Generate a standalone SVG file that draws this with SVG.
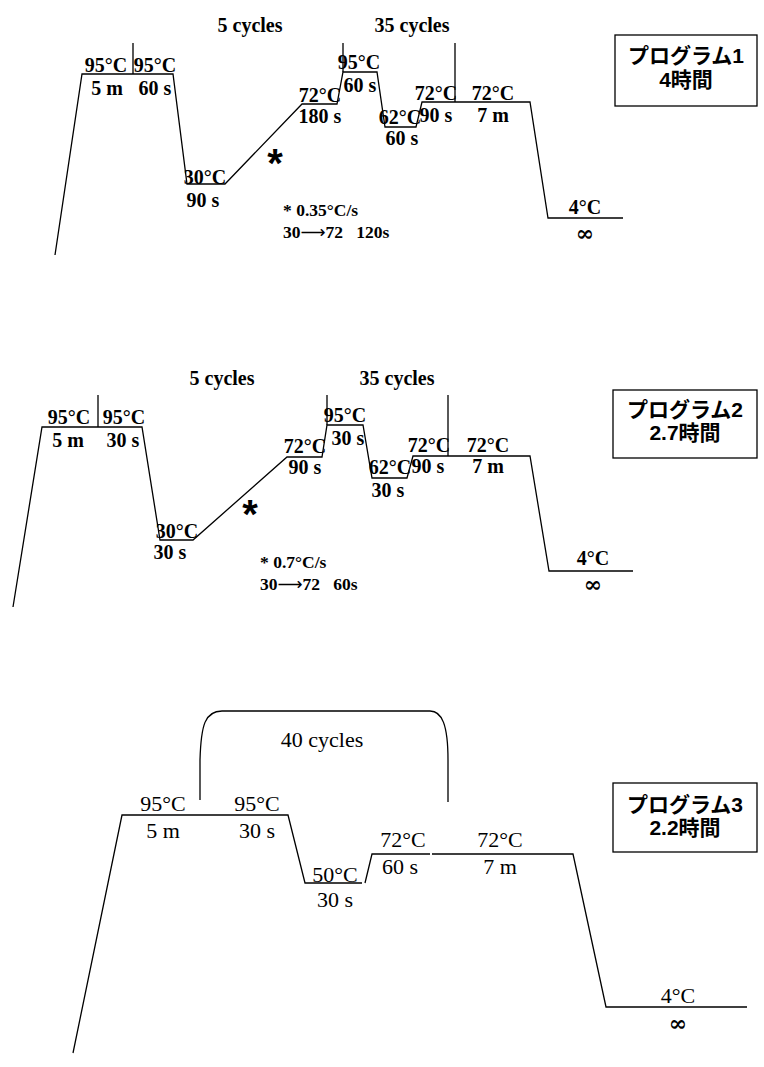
<svg xmlns="http://www.w3.org/2000/svg" width="764" height="1067" viewBox="0 0 764 1067">
<style>
.ln{fill:none;stroke:#000;stroke-width:1.3;stroke-linejoin:miter}
.b{font-family:"Liberation Serif","DejaVu Serif",serif;font-weight:bold;font-size:20px;fill:#000;text-anchor:middle}
.bs{font-family:"Liberation Serif","DejaVu Serif",serif;font-weight:bold;font-size:17.5px;fill:#000;white-space:pre}
.arr{font-family:"DejaVu Sans","Liberation Sans",sans-serif;font-weight:normal}
.r{font-family:"Liberation Serif","DejaVu Serif",serif;font-size:22px;fill:#000;text-anchor:middle}
.ast{font-family:"Liberation Sans","DejaVu Sans",sans-serif;font-weight:bold;font-size:40px;fill:#000;text-anchor:middle}
.inf{font-family:"DejaVu Serif","Liberation Serif",serif;font-weight:bold;font-size:22px;fill:#000;text-anchor:middle}
.jp{font-family:"Liberation Sans","Noto Sans CJK JP",sans-serif;font-weight:bold;font-size:21px;fill:#000;text-anchor:middle}
.box{fill:#fff;stroke:#000;stroke-width:1.3}
</style>
<rect width="764" height="1067" fill="#fff"/>
<g id="connectors">
<path class="ln" d="M55,255 L82,74 L173,74 L187,184 L225,184 L302,104 L337,104 L343,72 L377,72 L385,127 L416,127 L422,102 L530,102 L548,218 L623,218"/>
<path class="ln" d="M133,43 L133,74 M343,43 L343,72 M455,43 L455,102"/>
<path class="ln" d="M13,607 L42,427 L142,427 L160,540 L193,540 L287,457 L322,457 L327,425 L363,425 L372,478 L407,478 L413,456 L530,456 L549,571 L633,571"/>
<path class="ln" d="M98,395 L98,427 M327,395 L327,425 M448,395 L448,456"/>
<path class="ln" d="M73,1053 L122,815 L288,815 L305,883 L362,883 M365,883 L372,854 L430,854 M432,854 L573,854 L606,1007 L747,1007"/>
<path class="ln" d="M200,800 L200,760 C201,725 205,711 222,711 L430,711 C442,711 448,725 448,760 L448,802"/>
</g>
<g id="program1">
<text class="b" x="250" y="32">5 cycles</text>
<text class="b" x="412" y="32">35 cycles</text>
<text class="b" x="106" y="72">95°C</text>
<text class="b" x="155" y="72">95°C</text>
<text class="b" x="107" y="95">5 m</text>
<text class="b" x="155" y="95">60 s</text>
<text class="b" x="205" y="184">30°C</text>
<text class="b" x="203" y="207">90 s</text>
<text class="ast" x="275" y="177">*</text>
<text class="b" x="320" y="102">72°C</text>
<text class="b" x="320" y="123">180 s</text>
<text class="b" x="359" y="69">95°C</text>
<text class="b" x="360" y="92">60 s</text>
<text class="b" x="400" y="124">62°C</text>
<text class="b" x="402" y="145">60 s</text>
<text class="b" x="436" y="100">72°C</text>
<text class="b" x="436" y="122">90 s</text>
<text class="b" x="493" y="100">72°C</text>
<text class="b" x="493" y="122">7 m</text>
<text class="b" x="585" y="214">4°C</text>
<text class="inf" x="585" y="241">∞</text>
<text class="bs" x="283" y="216">* 0.35°C/s</text>
<text class="bs" x="283" y="238">30<tspan class="arr">⟶</tspan>72   120s</text>
</g>
<g id="box1">
<rect class="box" x="615" y="35" width="142" height="71"/>
<text class="jp" x="686" y="63">プログラム1</text>
<text class="jp" x="686" y="87">4時間</text>
</g>
<g id="program2">
<text class="b" x="222" y="385">5 cycles</text>
<text class="b" x="397" y="385">35 cycles</text>
<text class="b" x="69" y="424">95°C</text>
<text class="b" x="124" y="424">95°C</text>
<text class="b" x="68" y="447">5 m</text>
<text class="b" x="123" y="447">30 s</text>
<text class="b" x="177" y="538">30°C</text>
<text class="b" x="170" y="559">30 s</text>
<text class="ast" x="250" y="528">*</text>
<text class="b" x="305" y="453">72°C</text>
<text class="b" x="305" y="474">90 s</text>
<text class="b" x="345" y="422">95°C</text>
<text class="b" x="348" y="445">30 s</text>
<text class="b" x="390" y="474">62°C</text>
<text class="b" x="388" y="497">30 s</text>
<text class="b" x="429" y="452">72°C</text>
<text class="b" x="428" y="473">90 s</text>
<text class="b" x="488" y="452">72°C</text>
<text class="b" x="488" y="473">7 m</text>
<text class="b" x="593" y="565">4°C</text>
<text class="inf" x="593" y="592">∞</text>
<text class="bs" x="260" y="568">* 0.7°C/s</text>
<text class="bs" x="260" y="590">30<tspan class="arr">⟶</tspan>72   60s</text>
</g>
<g id="box2">
<rect class="box" x="613" y="390" width="144" height="68"/>
<text class="jp" x="685" y="417">プログラム2</text>
<text class="jp" x="685" y="440">2.7時間</text>
</g>
<g id="program3">
<text class="r" x="322" y="747">40 cycles</text>
<text class="r" x="163" y="811">95°C</text>
<text class="r" x="257" y="811">95°C</text>
<text class="r" x="163" y="838">5 m</text>
<text class="r" x="257" y="838">30 s</text>
<text class="r" x="335" y="882">50°C</text>
<text class="r" x="335" y="907">30 s</text>
<text class="r" x="403" y="847">72°C</text>
<text class="r" x="400" y="874">60 s</text>
<text class="r" x="500" y="847">72°C</text>
<text class="r" x="500" y="874">7 m</text>
<text class="r" x="678" y="1003">4°C</text>
<text class="inf" x="678" y="1031">∞</text>
</g>
<g id="box3">
<rect class="box" x="613" y="783" width="144" height="69"/>
<text class="jp" x="685" y="812">プログラム3</text>
<text class="jp" x="685" y="835">2.2時間</text>
</g>
</svg>
